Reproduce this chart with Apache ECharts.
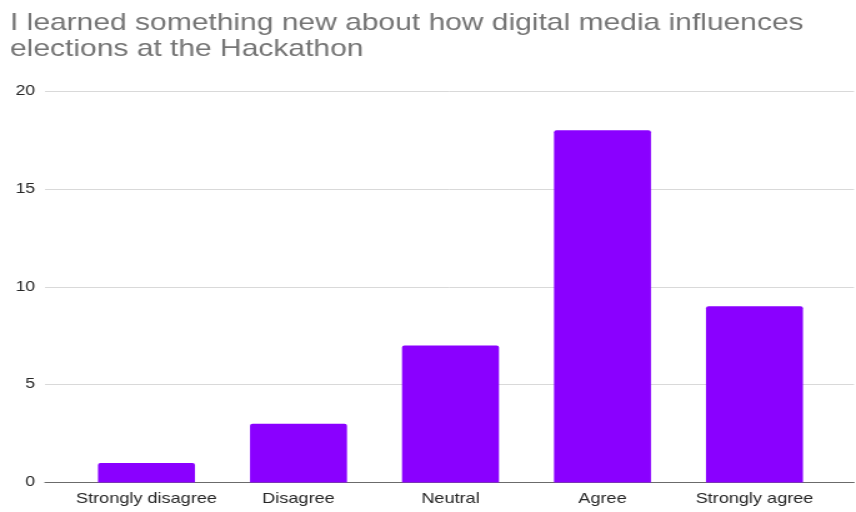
<!DOCTYPE html>
<html>
<head>
<meta charset="utf-8">
<script src="https://cdn.jsdelivr.net/npm/echarts@6/dist/echarts.min.js"></script>
<style>
  html, body { margin: 0; padding: 0; background: #fff; overflow: hidden; }
  /* the chart is laid out narrow and widened horizontally, giving the wide letterforms */
  #chart { width: 685px; height: 512px; transform: scaleX(1.2496); transform-origin: 0 0; }
</style>
</head>
<body>
<div id="chart"></div>
<script>
// Survey responses
const titleLines = ['I learned something new about how digital media influences', 'elections at the Hackathon'];
const categories = ['Strongly disagree', 'Disagree', 'Neutral', 'Agree', 'Strongly agree'];
const counts = [1, 3, 7, 18, 9];
const yTicks = { min: 0, max: 20, interval: 5 };

const FONT = 'Liberation Sans, Arial, sans-serif';
const TOP = 91, BOTTOM = 512 - 482.5;

const chart = echarts.init(document.getElementById('chart'), null, { renderer: 'canvas' });
chart.setOption({
  animation: false,
  backgroundColor: '#ffffff',
  title: {
    text: titleLines.join('\n'),
    left: 3,
    top: 5,
    textStyle: {
      fontFamily: FONT,
      fontSize: 24,
      fontWeight: 'normal',
      color: '#757575',
      lineHeight: 26
    }
  },
  grid: [
    // wide grid: gridlines, value labels and baseline
    { left: 36, right: 1.6, top: TOP, bottom: BOTTOM, containLabel: false },
    // inner grid: category bands for the bars
    { left: 56.4, right: 20.4, top: TOP, bottom: BOTTOM, containLabel: false }
  ],
  xAxis: [
    {
      gridIndex: 0, type: 'value', min: 0, max: 1,
      axisLine: { show: true, onZero: false, lineStyle: { color: '#6b6b6b', width: 1.2 } },
      axisTick: { show: false }, axisLabel: { show: false }, splitLine: { show: false }
    },
    {
      gridIndex: 1, type: 'category', data: categories,
      axisLine: { show: false }, axisTick: { show: false },
      axisLabel: { interval: 0, hideOverlap: false, fontFamily: FONT, fontSize: 14.5, color: '#262626', margin: 9 }
    }
  ],
  yAxis: [
    {
      gridIndex: 0, type: 'value', min: yTicks.min, max: yTicks.max, interval: yTicks.interval,
      axisLine: { show: false }, axisTick: { show: false },
      axisLabel: { fontFamily: FONT, fontSize: 14, color: '#262626', margin: 8 },
      splitLine: { show: true, lineStyle: { color: '#d9d9d9', width: 1 } }
    },
    {
      gridIndex: 1, type: 'value', min: yTicks.min, max: yTicks.max, show: false,
      splitLine: { show: false }
    }
  ],
  series: [
    {
      type: 'bar',
      xAxisIndex: 1,
      yAxisIndex: 1,
      data: counts,
      barWidth: 77.6,
      itemStyle: { color: '#8a00ff', borderRadius: [2, 2, 0, 0] }
    }
  ]
});
</script>
</body>
</html>
